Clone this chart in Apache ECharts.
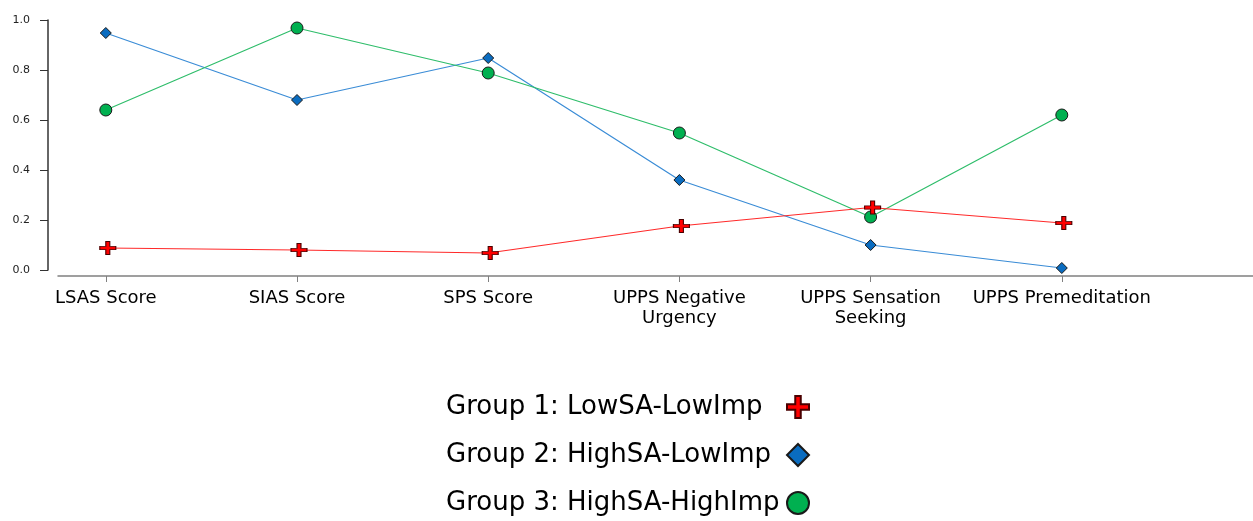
<!DOCTYPE html>
<html>
<head>
<meta charset="utf-8">
<script src="https://cdn.jsdelivr.net/npm/echarts@6/dist/echarts.min.js"></script>
<style>
html,body{margin:0;padding:0;background:#fff;}
#chart{width:1253px;height:521px;}
</style>
</head>
<body>
<div id="chart"></div>
<script>
const categories = ['LSAS Score', 'SIAS Score', 'SPS Score', 'UPPS Negative\nUrgency', 'UPPS Sensation\nSeeking', 'UPPS Premeditation'];
const seriesNames = ['Group 1: LowSA-LowImp', 'Group 2: HighSA-LowImp', 'Group 3: HighSA-HighImp'];
const group1 = [0.088, 0.080, 0.068, 0.176, 0.250, 0.188];
const group2 = [0.948, 0.680, 0.848, 0.360, 0.100, 0.008];
const group3 = [0.640, 0.968, 0.788, 0.548, 0.212, 0.620];
const yTicks = [0, 0.2, 0.4, 0.6, 0.8, 1.0];

const FONT = 'DejaVu Sans';
const crossPath = 'path://M6,0H10V6H16V10H10V16H6V10H0V6H6Z';
const catIdx = categories.map((c, i) => i);
const toPts = arr => arr.map((v, i) => [i, v]);

const chart = echarts.init(document.getElementById('chart'), null, {renderer: 'canvas'});
chart.setOption({
  animation: false,
  backgroundColor: '#fff',
  grid: {left: 58, right: 0, top: 20, bottom: 251, containLabel: false},
  xAxis: {
    type: 'value', min: -0.25, max: 6, offset: 6,
    splitLine: {show: false},
    axisLine: {show: true, onZero: false, lineStyle: {color: '#808080', width: 1.5}},
    axisTick: {show: true, customValues: catIdx, length: 6, lineStyle: {color: '#808080', width: 1}},
    axisLabel: {
      show: true, customValues: catIdx, margin: 12,
      formatter: v => categories[Math.round(v)] || '',
      fontFamily: FONT, fontSize: 18, lineHeight: 20, color: '#000', align: 'center'
    }
  },
  yAxis: {
    type: 'value', min: 0, max: 1, interval: 0.2, offset: 10,
    splitLine: {show: false},
    axisLine: {show: true, onZero: false, lineStyle: {color: '#333', width: 1.5}},
    axisTick: {show: true, length: 8, lineStyle: {color: '#333', width: 1}},
    axisLabel: {
      margin: 18, fontFamily: FONT, fontSize: 11, color: '#222',
      padding: [0, 0, 5, 0],
      formatter: v => (yTicks.find(t => Math.abs(t - v) < 1e-9) ?? v).toFixed(1)
    }
  },
  legend: {
    orient: 'vertical', left: 446, top: 394, height: 200, padding: 0, align: 'right',
    itemWidth: 22, itemHeight: 22, itemGap: 22,
    formatter: name => '{t|' + name + '}',
    textStyle: {
      fontFamily: FONT, fontSize: 26, color: '#000',
      rich: {t: {fontFamily: FONT, fontSize: 26, color: '#000', width: 336, align: 'left', lineHeight: 26}}
    },
    data: [
      {name: seriesNames[0], icon: crossPath},
      {name: seriesNames[1], icon: 'diamond'},
      {name: seriesNames[2], icon: 'circle'}
    ]
  },
  series: [
    {
      name: seriesNames[0], type: 'line', data: toPts(group1), z: 4,
      symbol: crossPath, symbolSize: [16, 13], symbolKeepAspect: false, symbolOffset: [2, 0],
      lineStyle: {color: '#ff2a2a', width: 1.2},
      itemStyle: {color: '#ff0000', borderColor: '#4a0000', borderWidth: 1}
    },
    {
      name: seriesNames[1], type: 'line', data: toPts(group2), z: 2,
      symbol: 'diamond', symbolSize: 11,
      lineStyle: {color: '#3a8cd6', width: 1.2},
      itemStyle: {color: '#0a6cc0', borderColor: '#1a1a1a', borderWidth: 1}
    },
    {
      name: seriesNames[2], type: 'line', data: toPts(group3), z: 3,
      symbol: 'circle', symbolSize: 12,
      lineStyle: {color: '#2ebd6a', width: 1.2},
      itemStyle: {color: '#00b050', borderColor: '#1a1a1a', borderWidth: 1}
    }
  ]
});
</script>
</body>
</html>
